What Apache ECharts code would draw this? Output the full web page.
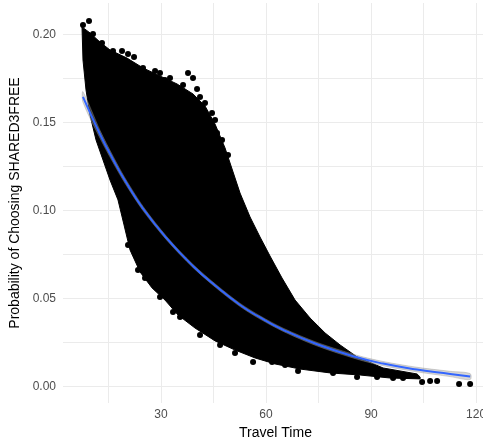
<!DOCTYPE html>
<html>
<head>
<meta charset="utf-8">
<script src="https://cdn.jsdelivr.net/npm/echarts@6/dist/echarts.min.js"></script>
<style>
  html, body { margin: 0; padding: 0; background: #fff; }
  #main { width: 483px; height: 442px; }
</style>
</head>
<body>
<div id="main"></div>
<script>
// Outline of the dense point cloud (travel time, probability)
const cloudTop = [
  [7.43, 0.2043], [9.71, 0.2009], [12.57, 0.1957], [15.43, 0.1912], [20.29, 0.1866],
  [24.86, 0.1810], [29.71, 0.1764], [34.57, 0.1719], [39.14, 0.1662], [42.57, 0.1594],
  [45.43, 0.1491], [48.29, 0.1355], [50.57, 0.1219], [52.57, 0.1099], [55.43, 0.0963],
  [58.29, 0.0849], [61.14, 0.0741], [64.57, 0.0616], [68.29, 0.0491], [72.57, 0.0389],
  [76.86, 0.0304], [81.14, 0.0236], [86.0, 0.0168], [93.43, 0.0105], [103.14, 0.0071],
  [104.0, 0.0054]
];
const cloudBottom = [
  [7.43, 0.2043], [7.71, 0.1855], [8.57, 0.1685], [9.71, 0.1543], [11.43, 0.1401],
  [13.43, 0.1287], [15.43, 0.1173], [17.71, 0.1060], [19.43, 0.0918], [21.14, 0.0776],
  [24.0, 0.0651], [27.43, 0.0560], [31.14, 0.0491], [34.86, 0.0406], [39.71, 0.0332],
  [45.43, 0.0259], [51.14, 0.0207], [56.86, 0.0162], [62.57, 0.0128], [69.71, 0.0099],
  [78.29, 0.0077], [86.86, 0.0065], [95.43, 0.0048], [104.0, 0.0043]
];

// Loose points sticking out of the cloud
const strayPoints = [
  [7.71, 0.2054], [9.43, 0.2077], [10.57, 0.2003], [13.14, 0.1952], [16.29, 0.1906],
  [18.86, 0.1906], [20.57, 0.1889], [22.29, 0.1872], [24.86, 0.1810], [28.29, 0.1793],
  [29.71, 0.1781], [32.57, 0.1753], [36.29, 0.1713], [41.14, 0.1645], [42.57, 0.1611],
  [31.14, 0.1741], [34.0, 0.1702], [37.71, 0.1781], [39.14, 0.1753], [40.29, 0.1690],
  [35.43, 0.1645], [44.57, 0.1554], [44.0, 0.1503], [46.0, 0.1440], [45.43, 0.1514],
  [47.43, 0.1401], [49.14, 0.1315],
  [20.57, 0.0804], [23.43, 0.0662], [25.43, 0.0616], [29.71, 0.0509], [33.43, 0.0423],
  [35.43, 0.0395], [41.14, 0.0293], [46.86, 0.0236], [51.14, 0.0190], [56.29, 0.0139],
  [61.71, 0.0139], [65.43, 0.0122], [69.14, 0.0088], [79.14, 0.0077], [86.0, 0.0054],
  [91.71, 0.0054], [96.29, 0.0048], [99.14, 0.0048], [104.57, 0.0026], [106.86, 0.0031],
  [108.86, 0.0031], [115.14, 0.0014], [118.29, 0.0014]
];

// Smoothed fit and its confidence band
const smoothX = [7.7, 12.6, 16.3, 19.7, 24.9, 31.7, 39.1, 46.0, 52.6, 58.3, 64.9, 74.6, 86.0, 93.4, 103.1, 112.6, 118.3];
const smoothY = [0.1645, 0.1432, 0.1290, 0.1170, 0.1010, 0.0840, 0.0685, 0.0565, 0.0463, 0.0392, 0.0322, 0.0240, 0.0166, 0.0130, 0.0096, 0.0071, 0.0056];
const smoothLow = [0.1615, 0.1410, 0.1272, 0.1155, 0.0998, 0.0830, 0.0676, 0.0556, 0.0454, 0.0383, 0.0313, 0.0230, 0.0155, 0.0118, 0.0083, 0.0056, 0.0039];
const smoothHigh = [0.1675, 0.1454, 0.1308, 0.1185, 0.1022, 0.0850, 0.0694, 0.0574, 0.0472, 0.0401, 0.0331, 0.0250, 0.0177, 0.0142, 0.0109, 0.0086, 0.0073];

// Axis ticks
const xLabels = [30, 60, 90, 120];
const xGrid = [15, 30, 45, 60, 75, 90, 105, 120];
const yLabels = [0, 0.05, 0.1, 0.15, 0.2];
const yGrid = [0, 0.025, 0.05, 0.075, 0.1, 0.125, 0.15, 0.175, 0.2];

const bandTop = smoothX.map((x, i) => [x, smoothHigh[i]]);
const bandBottom = smoothX.map((x, i) => [x, smoothLow[i]]);

// filled shape between two edges, drawn through the axes
function areaBetween(top, bottom, color, z, smooth) {
  const ring = top.concat(bottom.slice().reverse());
  return {
    type: 'custom',
    z: z,
    silent: true,
    clip: true,
    data: ring,
    renderItem: function (params, api) {
      if (params.dataIndex !== 0) return null;
      return {
        type: 'polygon',
        shape: { points: ring.map((p) => api.coord(p)), smooth: smooth },
        style: { fill: color, stroke: color, lineWidth: 1 }
      };
    }
  };
}

const chart = echarts.init(document.getElementById('main'));

const gridLine = { show: true, lineStyle: { color: '#ebebeb', width: 1 } };
const labelFont = { color: '#4d4d4d', fontSize: 12, fontFamily: 'Liberation Sans' };
const nameFont = { color: '#000', fontSize: 14, fontFamily: 'Liberation Sans' };

chart.setOption({
  animation: false,
  backgroundColor: '#fff',
  grid: { left: 63, right: -5, top: 3, bottom: 39, outerBoundsMode: 'none' },
  xAxis: {
    type: 'value',
    min: 2,
    max: 123.4,
    name: 'Travel Time',
    nameLocation: 'middle',
    nameGap: 22,
    nameTextStyle: nameFont,
    axisLine: { show: false },
    axisTick: { show: false, customValues: xGrid },
    axisLabel: Object.assign({ customValues: xLabels, margin: 6 }, labelFont),
    splitLine: gridLine
  },
  yAxis: {
    type: 'value',
    min: -0.0094,
    max: 0.2179,
    name: 'Probability of Choosing SHARED3FREE',
    nameLocation: 'middle',
    nameGap: 31,
    nameTextStyle: nameFont,
    axisLine: { show: false },
    axisTick: { show: false, customValues: yGrid },
    axisLabel: Object.assign({
      customValues: yLabels,
      margin: 7,
      formatter: (v) => v.toFixed(2)
    }, labelFont),
    splitLine: gridLine
  },
  series: [
    areaBetween(cloudTop, cloudBottom, '#000', 1, 0),
    {
      type: 'scatter',
      z: 2,
      symbolSize: 6,
      itemStyle: { color: '#000', opacity: 1 },
      data: strayPoints
    },
    areaBetween(bandTop, bandBottom, 'rgba(153,153,153,0.4)', 3, 0.3),
    {
      type: 'line',
      z: 4,
      smooth: true,
      symbol: 'none',
      lineStyle: { color: '#3366ff', width: 2 },
      data: smoothX.map((x, i) => [x, smoothY[i]])
    }
  ]
});
</script>
</body>
</html>
